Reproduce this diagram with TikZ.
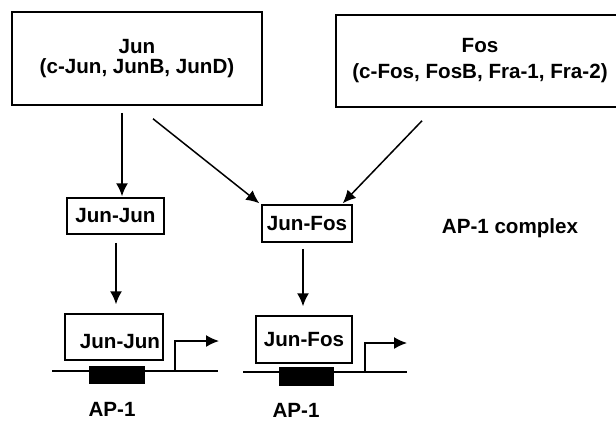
\documentclass[tikz,border=0pt]{standalone}
\usepackage{fontspec}
\setmainfont{Liberation Sans}
\usetikzlibrary{calc,arrows.meta}

\begin{document}
\begin{tikzpicture}[
    x=0.5pt,
    y=-0.5pt,
    every node/.style={font=\bfseries\fontsize{10.3}{12}\selectfont},
    family/.style={draw, line width=0.75pt, align=center, inner sep=0pt},
    dimer/.style={draw, line width=0.75pt, inner sep=0pt},
    arrow/.style={-{Latex[length=6.5pt, width=6pt]}, line width=0.75pt},
    dna/.style={black, line width=0.7pt},
    site/.style={black}
]

% -------------------------------------------------------------------------
% Page
% -------------------------------------------------------------------------
\useasboundingbox (0,0) rectangle (616,420);
\clip (0,0) rectangle (616,420);

% -------------------------------------------------------------------------
% Families
% -------------------------------------------------------------------------
\node[ family, minimum width=125pt, minimum height=46.5pt ] (jun)
    at (137,58.5) {Jun\\[-2.4pt](c-Jun, JunB, JunD)};
\node[ family, minimum width=144pt, minimum height=46pt ] (fos)
    at (480,61) {Fos\\[1pt](c-Fos, FosB, Fra-1, Fra-2)};

% -------------------------------------------------------------------------
% Dimers
% -------------------------------------------------------------------------
\node[ dimer, minimum width=48.5pt, minimum height=18pt ] (jj-top)
    at (115.5,216) {Jun-Jun};
\node[ dimer, minimum width=45pt, minimum height=18.5pt ] (jf-top)
    at (307,223.5) {Jun-Fos};

\node at (510,228) (complex) {AP-1 complex};

% -------------------------------------------------------------------------
% Dimers on the DNA
% -------------------------------------------------------------------------
\node[ dimer, minimum width=49pt, minimum height=23pt, text height=12pt ] (jj-bot)
    at (114,337) {\hspace{6pt}Jun-Jun};
\node[ dimer, minimum width=48pt, minimum height=23.5pt ] (jf-bot)
    at (304,339.5) {Jun-Fos};

% -------------------------------------------------------------------------
% Dimerisation
% -------------------------------------------------------------------------
\draw[ arrow ]
    ($(jj-top.north |- jun.south) + (6.5,7)$) -- ($(jj-top.north) + (6.5,-1)$);
\draw[ arrow ]
    ($(jun.south) + (16,13)$) -- ($(jf-top.north west) + (-2,-1)$);
\draw[ arrow ]
    ($(fos.south) + (-58,13)$) -- ($(jf-top.north east) + (-10,-1)$);

% -------------------------------------------------------------------------
% Binding
% -------------------------------------------------------------------------
\draw[ arrow ]
    ($(jj-top.south) + (0.5,8)$) -- ($(jj-top.south |- jj-bot.north) + (0.5,-9)$);
\draw[ arrow ]
    ($(jf-top.south) + (-4,6)$) -- ($(jf-top.south |- jf-bot.north) + (-4,-9)$);

% -------------------------------------------------------------------------
% DNA with AP-1 sites
% -------------------------------------------------------------------------
\draw[ dna ] (52,371) -- (218,371);
\fill[ site ] (89,366) rectangle (145,384);
\coordinate (tss-left) at (175,371);
\draw[ arrow ] (tss-left) -- ++(0,-30) -- ++(44,0);
\node at (112,409) (site-left) {AP-1};

\draw[ dna ] (243,372) -- (407,372);
\fill[ site ] (279,367) rectangle (334,386);
\coordinate (tss-right) at (365,372);
\draw[ arrow ] (tss-right) -- ++(0,-29) -- ++(42,0);
\node at (296,410) (site-right) {AP-1};

\end{tikzpicture}
\end{document}
